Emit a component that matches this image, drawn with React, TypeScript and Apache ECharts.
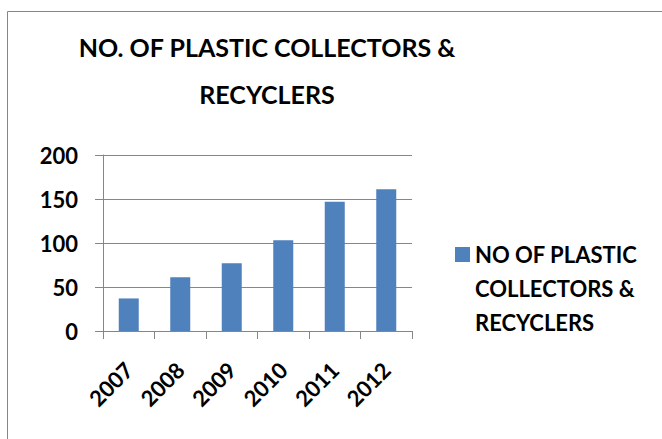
import React, { useEffect, useRef } from "react";
import * as echarts from "echarts";

const categories = ["2007", "2008", "2009", "2010", "2011", "2012"];
const values = [37, 61, 77, 103, 147, 161];
const seriesName = "NO OF PLASTIC COLLECTORS & RECYCLERS";
const legendLines = ["NO OF PLASTIC", "COLLECTORS &", "RECYCLERS"];
const titleText = "NO. OF PLASTIC COLLECTORS &\nRECYCLERS";

const FONT = "Lato";
const GRAY = "#868686";

export default function App() {
  const ref = useRef<HTMLDivElement>(null);
  useEffect(() => {
    const chart = echarts.init(ref.current!, null, { renderer: "svg" });
    chart.setOption({
      animation: false,
      backgroundColor: "#ffffff",
      title: {
        text: titleText,
        left: 267,
        top: 23,
        textAlign: "center",
        padding: 0,
        textStyle: {
          fontFamily: FONT,
          fontWeight: "bold",
          fontSize: 25,
          lineHeight: 47,
          color: "#000",
        },
      },
      graphic: [
        {
          type: "rect",
          shape: { x: 7.5, y: 11.5, width: 700, height: 500 },
          style: { fill: "none", stroke: GRAY, lineWidth: 1 },
          silent: true,
        },
      ],
      legend: {
        orient: "vertical",
        left: 455,
        top: 237,
        padding: 0,
        itemWidth: 15,
        itemHeight: 82,
        icon: "path://M0,0L15,0L15,15L0,15Z M0,82",
        formatter: () => legendLines.join("\n"),
        textStyle: {
          fontFamily: FONT,
          fontWeight: "bold",
          fontSize: 22,
          lineHeight: 34,
          color: "#000",
        },
        data: [seriesName],
      },
      grid: { left: 103, right: 250, top: 155, bottom: 108, containLabel: false },
      xAxis: {
        type: "category",
        data: categories,
        axisLine: { lineStyle: { color: GRAY } },
        axisTick: { show: true, length: 8, lineStyle: { color: GRAY } },
        axisLabel: {
          rotate: 45,
          margin: 35,
          fontFamily: FONT,
          fontWeight: "bold",
          fontSize: 22,
          color: "#000",
        },
      },
      yAxis: {
        type: "value",
        min: 0,
        max: 200,
        interval: 50,
        axisLine: { show: true, lineStyle: { color: GRAY } },
        axisTick: { show: true, length: 8, lineStyle: { color: GRAY } },
        splitLine: { show: true, lineStyle: { color: GRAY } },
        axisLabel: {
          margin: 25,
          fontFamily: FONT,
          fontWeight: "bold",
          fontSize: 22,
          color: "#000",
        },
      },
      series: [
        {
          name: seriesName,
          type: "bar",
          data: values,
          barWidth: 20,
          itemStyle: { color: "#4F81BD" },
        },
      ],
    });
    return () => chart.dispose();
  }, []);
  return (
    <div
      ref={ref}
      style={{ position: "absolute", left: 0, top: 0, width: 662, height: 439 }}
    />
  );
}
